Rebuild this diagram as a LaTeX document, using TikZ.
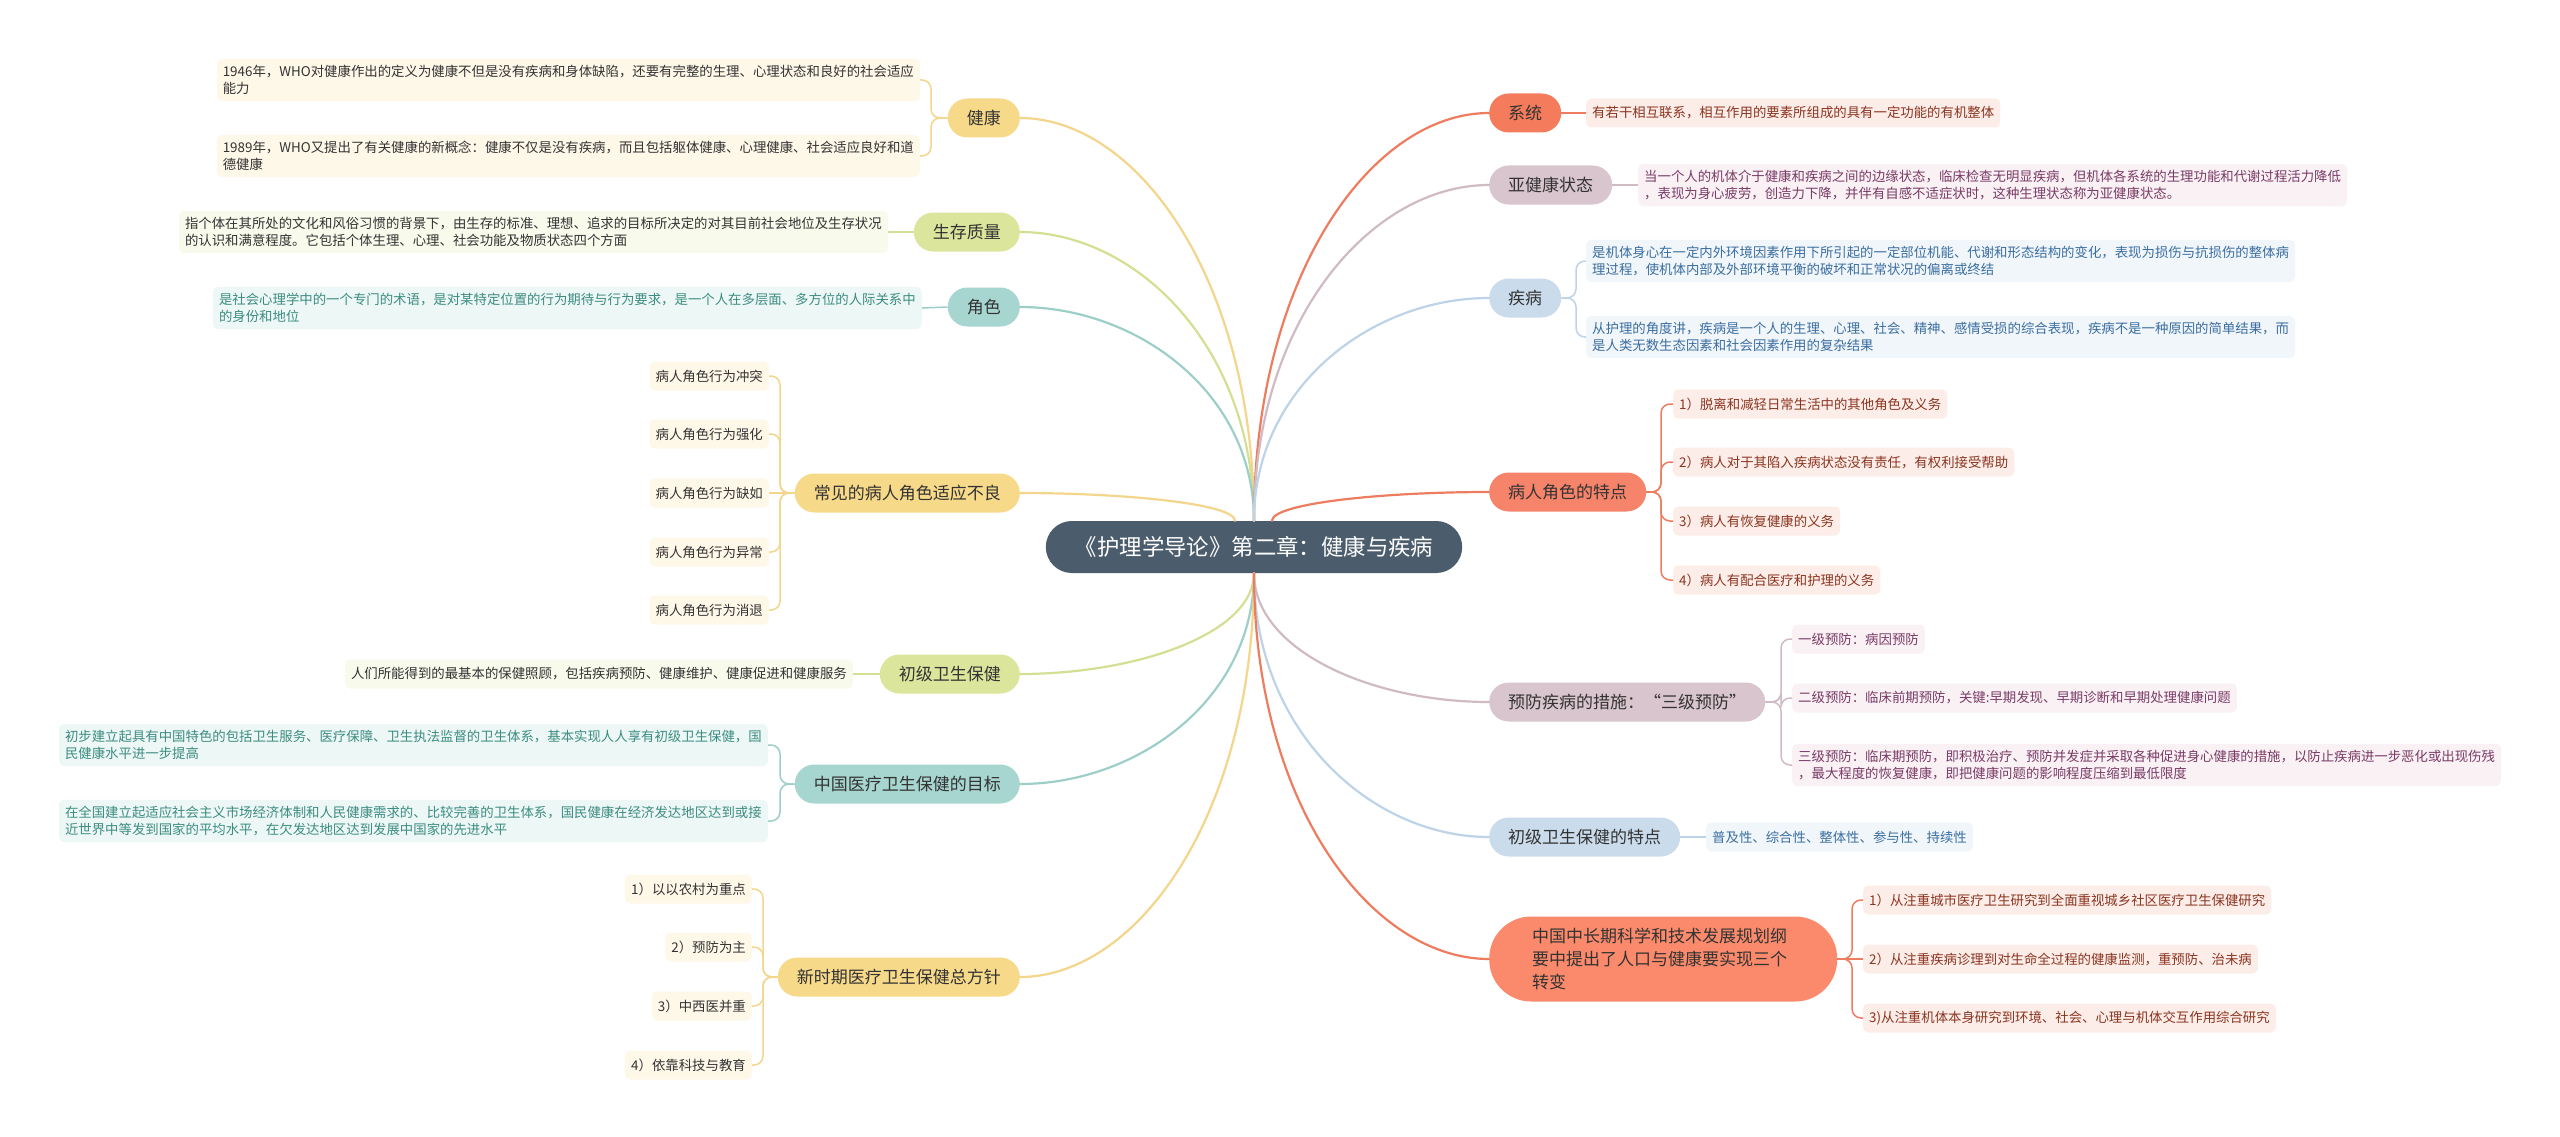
\documentclass[tikz,border=0pt]{standalone}
\usepackage{fontspec}
\setmainfont{Noto Sans CJK SC}
\usetikzlibrary{calc}
\definecolor{rootC}{HTML}{4B5D6D}
\definecolor{txtD}{HTML}{333333}
\definecolor{yelN}{HTML}{F7D98A}\definecolor{yelL}{HTML}{F3D68C}\definecolor{yelB}{HTML}{FEF8E9}
\definecolor{grnN}{HTML}{DCE59C}\definecolor{grnL}{HTML}{D3DF92}\definecolor{grnB}{HTML}{F8FAEC}
\definecolor{tealN}{HTML}{A7D5CF}\definecolor{tealL}{HTML}{9DCFC8}\definecolor{tealB}{HTML}{EDF7F5}\definecolor{tealT}{HTML}{3C8C82}
\definecolor{orN}{HTML}{F47B5B}\definecolor{orN2}{HTML}{F6846A}\definecolor{orN3}{HTML}{FA8A6B}\definecolor{orL}{HTML}{EE7C5E}\definecolor{orB}{HTML}{FDEDE8}\definecolor{orT}{HTML}{8A3520}
\definecolor{mvN}{HTML}{D9C5CD}\definecolor{mvL}{HTML}{D0BAC4}\definecolor{mvB}{HTML}{F9F1F4}\definecolor{mvT}{HTML}{7A3B66}
\definecolor{blN}{HTML}{CADCEC}\definecolor{blL}{HTML}{BDD3E7}\definecolor{blB}{HTML}{F1F6FB}\definecolor{blT}{HTML}{3B6EA0}
\tikzset{
  rootbox/.style={fill=rootC, text=white, rounded corners=26pt, minimum height=52pt, inner xsep=29pt, inner ysep=0pt, font=\fontsize{22.4}{26}\selectfont},
  mainbox/.style={rounded corners=19.5pt, minimum height=39pt, inner xsep=19pt, inner ysep=0pt, text=txtD, font=\fontsize{17}{22}\selectfont},
  leafbox/.style={rounded corners=5pt, inner xsep=6pt, inner ysep=6pt, minimum height=29pt, align=left, font=\fontsize{13.4}{17.5}\selectfont},
  lyel/.style={leafbox, fill=yelB, text=txtD},
  lgrn/.style={leafbox, fill=grnB, text=txtD},
  lteal/.style={leafbox, fill=tealB, text=tealT},
  lor/.style={leafbox, fill=orB, text=orT},
  lmv/.style={leafbox, fill=mvB, text=mvT},
  lbl/.style={leafbox, fill=blB, text=blT},
  mainline/.style={line width=2.2pt, line cap=round},
  brline/.style={line width=1.5pt, rounded corners=9pt},
}
\newcommand\rootlink[3]{\draw[mainline,#1] (#2) .. controls ($(#2)!0.6!(#2 |- #3)$) and ($(#3)!0.5!(#2 |- #3)$) .. (#3);}
\newcommand\brk[4]{\draw[brline,#1] (#2) -- (#3 |- #2) |- (#4);}
\begin{document}
\begin{tikzpicture}[x=1pt,y=-1pt]
\useasboundingbox (0,0) rectangle (2560,1137);
\fill[white] (0,0) rectangle (2560,1137);

% root
\node[rootbox] (root) at (1254,547) {《护理学导论》第二章：健康与疾病};
\coordinate (RT) at (root.north);
\coordinate (RB) at (root.south);
\coordinate (RTL) at ($(root.north)+(-19,0)$);
\coordinate (RTR) at ($(root.north)+(18,0)$);

% left main nodes
\node[mainbox, fill=yelN, anchor=east] (jk) at (1020,118) {健康};
\node[mainbox, fill=grnN, anchor=east] (sc) at (1020,232) {生存质量};
\node[mainbox, fill=tealN, anchor=east] (js) at (1020,307) {角色};
\node[mainbox, fill=yelN, anchor=east] (cj) at (1020,493) {常见的病人角色适应不良};
\node[mainbox, fill=grnN, anchor=east] (cw) at (1020,674) {初级卫生保健};
\node[mainbox, fill=tealN, anchor=east] (zg) at (1020,784) {中国医疗卫生保健的目标};
\node[mainbox, fill=yelN, anchor=east] (xs) at (1020,977) {新时期医疗卫生保健总方针};

% right main nodes
\node[mainbox, fill=orN, anchor=west] (xt) at (1489,113) {系统};
\node[mainbox, fill=mvN, anchor=west] (yj) at (1489,185) {亚健康状态};
\node[mainbox, fill=blN, anchor=west] (jb) at (1489,298) {疾病};
\node[mainbox, fill=orN2, anchor=west] (br) at (1489,492) {病人角色的特点};
\node[mainbox, fill=mvN, anchor=west] (yf) at (1489,702) {预防疾病的措施：“三级预防”};
\node[mainbox, fill=blN, anchor=west] (td) at (1489,837) {初级卫生保健的特点};
\node[mainbox, fill=orN3, anchor=west, rounded corners=42pt, minimum height=85pt, text width=262pt, inner xsep=43pt, align=left, font=\fontsize{17}{23}\selectfont] (zc) at (1489,959) {中国中长期科学和技术发展规划纲\\要中提出了人口与健康要实现三个\\转变};

% root connectors
\rootlink{yelL}{RT}{jk.east}
\rootlink{grnL}{RT}{sc.east}
\rootlink{tealL}{RT}{js.east}
\rootlink{yelL}{RTL}{cj.east}
\rootlink{grnL}{RB}{cw.east}
\rootlink{tealL}{RB}{zg.east}
\rootlink{yelL}{RB}{xs.east}
\rootlink{orL}{RT}{xt.west}
\rootlink{mvL}{RT}{yj.west}
\rootlink{blL}{RT}{jb.west}
\rootlink{orL}{RTR}{br.west}
\rootlink{mvL}{RB}{yf.west}
\rootlink{blL}{RB}{td.west}
\rootlink{orL}{RB}{zc.west}

% ---- left leaves ----
\node[lyel, anchor=east] (jk1) at (920,80) {1946年，WHO对健康作出的定义为健康不但是没有疾病和身体缺陷，还要有完整的生理、心理状态和良好的社会适应\\能力};
\node[lyel, anchor=east] (jk2) at (920,156) {1989年，WHO又提出了有关健康的新概念：健康不仅是没有疾病，而且包括躯体健康、心理健康、社会适应良好和道\\德健康};
\coordinate (bjk) at (931,0);
\brk{yelL}{jk.west}{bjk}{jk1.east}
\brk{yelL}{jk.west}{bjk}{jk2.east}

\node[lgrn, anchor=east] (sc1) at (888,232) {指个体在其所处的文化和风俗习惯的背景下，由生存的标准、理想、追求的目标所决定的对其目前社会地位及生存状况\\的认识和满意程度。它包括个体生理、心理、社会功能及物质状态四个方面};
\draw[brline,grnL] (sc.west) -- (sc1.east);

\node[lteal, anchor=east] (js1) at (922,308) {是社会心理学中的一个专门的术语，是对某特定位置的行为期待与行为要求，是一个人在多层面、多方位的人际关系中\\的身份和地位};
\draw[brline,tealL] (js.west) -- (js1.east);

\node[lyel, anchor=east] (cj1) at (769,376) {病人角色行为冲突};
\node[lyel, anchor=east] (cj2) at (769,434) {病人角色行为强化};
\node[lyel, anchor=east] (cj3) at (769,493) {病人角色行为缺如};
\node[lyel, anchor=east] (cj4) at (769,552) {病人角色行为异常};
\node[lyel, anchor=east] (cj5) at (769,610) {病人角色行为消退};
\coordinate (bcj) at (780,0);
\brk{yelL}{cj.west}{bcj}{cj1.east}
\brk{yelL}{cj.west}{bcj}{cj2.east}
\draw[brline,yelL] (cj.west) -- (cj3.east);
\brk{yelL}{cj.west}{bcj}{cj4.east}
\brk{yelL}{cj.west}{bcj}{cj5.east}

\node[lgrn, anchor=east] (cw1) at (853,674) {人们所能得到的最基本的保健照顾，包括疾病预防、健康维护、健康促进和健康服务};
\draw[brline,grnL] (cw.west) -- (cw1.east);

\node[lteal, anchor=east] (zg1) at (768,745) {初步建立起具有中国特色的包括卫生服务、医疗保障、卫生执法监督的卫生体系，基本实现人人享有初级卫生保健，国\\民健康水平进一步提高};
\node[lteal, anchor=east] (zg2) at (768,821) {在全国建立起适应社会主义市场经济体制和人民健康需求的、比较完善的卫生体系，国民健康在经济发达地区达到或接\\近世界中等发到国家的平均水平，在欠发达地区达到发展中国家的先进水平};
\coordinate (bzg) at (780,0);
\brk{tealL}{zg.west}{bzg}{zg1.east}
\brk{tealL}{zg.west}{bzg}{zg2.east}

\node[lyel, anchor=east] (xs1) at (752,889) {1）以以农村为重点};
\node[lyel, anchor=east] (xs2) at (752,947) {2）预防为主};
\node[lyel, anchor=east] (xs3) at (752,1006) {3）中西医并重};
\node[lyel, anchor=east] (xs4) at (752,1065) {4）依靠科技与教育};
\coordinate (bxs) at (763,0);
\brk{yelL}{xs.west}{bxs}{xs1.east}
\brk{yelL}{xs.west}{bxs}{xs2.east}
\brk{yelL}{xs.west}{bxs}{xs3.east}
\brk{yelL}{xs.west}{bxs}{xs4.east}

% ---- right leaves ----
\node[lor, anchor=west] (xt1) at (1586,113) {有若干相互联系，相互作用的要素所组成的具有一定功能的有机整体};
\draw[brline,orL] (xt.east) -- (xt1.west);

\node[lmv, anchor=west] (yj1) at (1638,185) {当一个人的机体介于健康和疾病之间的边缘状态，临床检查无明显疾病，但机体各系统的生理功能和代谢过程活力降低\\，表现为身心疲劳，创造力下降，并伴有自感不适症状时，这种生理状态称为亚健康状态。};
\draw[brline,mvL] (yj.east) -- (yj1.west);

\node[lbl, anchor=west] (jb1) at (1586,261) {是机体身心在一定内外环境因素作用下所引起的一定部位机能、代谢和形态结构的变化，表现为损伤与抗损伤的整体病\\理过程，使机体内部及外部环境平衡的破坏和正常状况的偏离或终结};
\node[lbl, anchor=west] (jb2) at (1586,337) {从护理的角度讲，疾病是一个人的生理、心理、社会、精神、感情受损的综合表现，疾病不是一种原因的简单结果，而\\是人类无数生态因素和社会因素作用的复杂结果};
\coordinate (bjb) at (1576,0);
\brk{blL}{jb.east}{bjb}{jb1.west}
\brk{blL}{jb.east}{bjb}{jb2.west}

\node[lor, anchor=west] (br1) at (1673,404) {1）脱离和减轻日常生活中的其他角色及义务};
\node[lor, anchor=west] (br2) at (1673,462) {2）病人对于其陷入疾病状态没有责任，有权利接受帮助};
\node[lor, anchor=west] (br3) at (1673,521) {3）病人有恢复健康的义务};
\node[lor, anchor=west] (br4) at (1673,580) {4）病人有配合医疗和护理的义务};
\coordinate (bbr) at (1661,0);
\brk{orL}{br.east}{bbr}{br1.west}
\brk{orL}{br.east}{bbr}{br2.west}
\brk{orL}{br.east}{bbr}{br3.west}
\brk{orL}{br.east}{bbr}{br4.west}

\node[lmv, anchor=west] (yf1) at (1792,639) {一级预防：病因预防};
\node[lmv, anchor=west] (yf2) at (1792,698) {二级预防：临床前期预防，关键:早期发现、早期诊断和早期处理健康问题};
\node[lmv, anchor=west] (yf3) at (1792,765) {三级预防：临床期预防，即积极治疗、预防并发症并采取各种促进身心健康的措施，以防止疾病进一步恶化或出现伤残\\，最大程度的恢复健康，即把健康问题的影响程度压缩到最低限度};
\coordinate (byf) at (1781,0);
\brk{mvL}{yf.east}{byf}{yf1.west}
\brk{mvL}{yf.east}{byf}{yf2.west}
\brk{mvL}{yf.east}{byf}{yf3.west}

\node[lbl, anchor=west] (td1) at (1706,837) {普及性、综合性、整体性、参与性、持续性};
\draw[brline,blL] (td.east) -- (td1.west);

\node[lor, anchor=west] (zc1) at (1863,900) {1）从注重城市医疗卫生研究到全面重视城乡社区医疗卫生保健研究};
\node[lor, anchor=west] (zc2) at (1863,959) {2）从注重疾病诊理到对生命全过程的健康监测，重预防、治未病};
\node[lor, anchor=west] (zc3) at (1863,1018) {3)从注重机体本身研究到环境、社会、心理与机体交互作用综合研究};
\coordinate (bzc) at (1852,0);
\brk{orL}{zc.east}{bzc}{zc1.west}
\draw[brline,orL] (zc.east) -- (zc2.west);
\brk{orL}{zc.east}{bzc}{zc3.west}
\end{tikzpicture}
\end{document}
